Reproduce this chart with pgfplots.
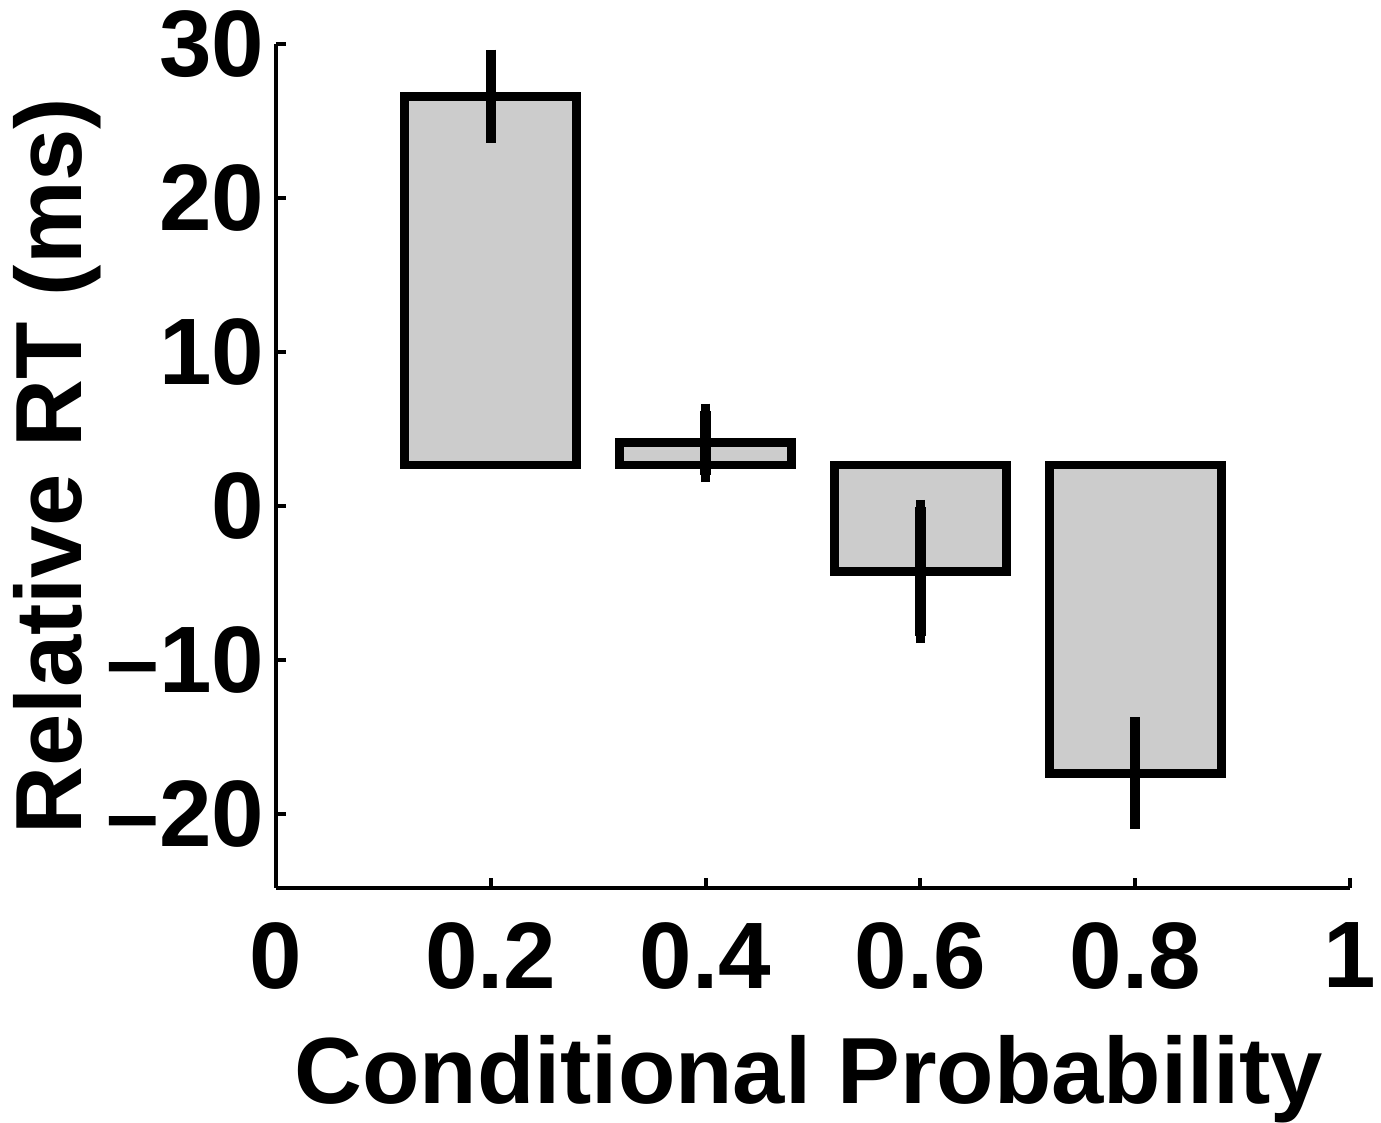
\documentclass[border=0pt]{standalone}
\usepackage{fontspec}
\setmainfont{Liberation Sans}
\usepackage{pgfplots}
\usepackage{pgfplotstable}
\pgfplotsset{compat=1.18}

\definecolor{barfill}{RGB}{204,204,204}

% x = conditional probability, bars drawn from base to top, err = half length of error bar
\pgfplotstableread{
x    base  top     err
0.2  2.66  26.60   2.56
0.4  2.66  4.10    2.08
0.6  2.66  -4.25   4.19
0.8  2.66  -17.34  3.15
}\rtdata

\begin{document}
\begin{tikzpicture}
\begin{axis}[
    scale only axis,
    width=268.5pt,
    height=211pt,
    xmin=0, xmax=1,
    ymin=-24.8, ymax=30,
    axis x line=bottom,
    axis y line=left,
    axis line style={-, line width=1pt},
    ybar stacked,
    stack negative=on previous,
    bar width=0.16,
    xtick={0,0.2,0.4,0.6,0.8,1},
    xticklabels={0,0.2,0.4,0.6,0.8,1},
    ytick={-20,-10,0,10,20,30},
    yticklabels={\textendash20,\textendash10,0,10,20,30},
    tick align=inside,
    major tick length=2.5pt,
    tick style={line width=1pt, black},
    ticklabel style={font=\fontsize{23.6}{28}\selectfont\bfseries, inner sep=0pt},
    yticklabel style={xshift=-2.75pt},
    xticklabel style={yshift=-8.5pt},
    xlabel={Conditional Probability},
    ylabel={Relative RT (ms)},
    every axis x label/.style={at={(axis description cs:0.496,-0.1742)}, anchor=north,
        font=\fontsize{23.5}{28}\selectfont\bfseries, inner sep=0pt},
    every axis y label/.style={at={(axis description cs:-0.245,0.5)}, rotate=90, anchor=north,
        font=\fontsize{23.5}{28}\selectfont\bfseries, inner sep=0pt},
    clip=false,
]
\coordinate (O) at (rel axis cs:0,0);
% invisible offset so that the bars start at the baseline
\addplot[draw=none, fill=none] table[x=x, y=base] {\rtdata};
\addplot[fill=barfill, draw=black, line width=2.2pt,
    error bars/.cd, y dir=both, y explicit,
    error bar style={line width=2.6pt, black},
    error mark options={line width=2.4pt, mark size=1.8pt, black}]
    table[x=x, y expr=\thisrow{top}-\thisrow{base}, y error=err] {\rtdata};
\end{axis}
\pgfresetboundingbox
\path[use as bounding box] ([shift={(-69pt,-58.75pt)}]O) rectangle ++(345.25pt,280.75pt);
\end{tikzpicture}
\end{document}
